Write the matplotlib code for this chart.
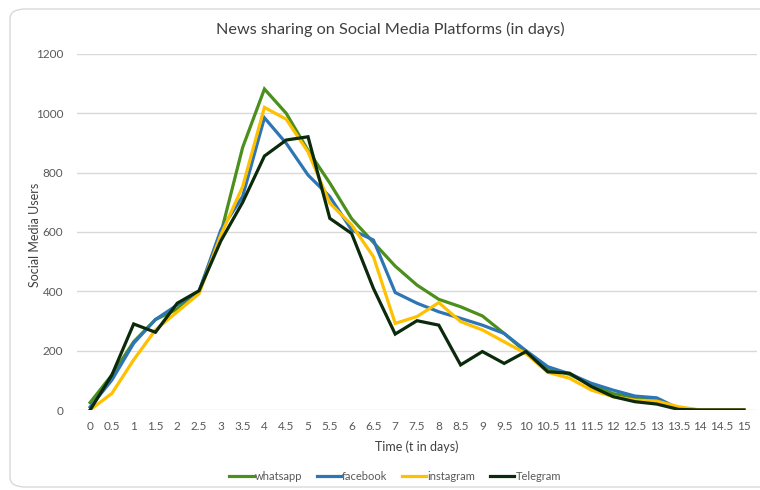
import matplotlib.pyplot as plt
from matplotlib.patches import FancyBboxPatch

plt.rcParams['font.family'] = ['Lato', 'DejaVu Sans']

# time steps (days) and users per platform
days = ['0', '0.5', '1', '1.5', '2', '2.5', '3', '3.5', '4', '4.5', '5', '5.5', '6', '6.5', '7', '7.5',
        '8', '8.5', '9', '9.5', '10', '10.5', '11', '11.5', '12', '12.5', '13', '13.5', '14', '14.5', '15']
whatsapp = [25, 118, 230, 305, 340, 400, 595, 885, 1082, 1000, 875, 765, 645, 565, 485, 421,
            373, 348, 317, 258, 195, 140, 120, 85, 55, 42, 33, 5, 0, 0, 0]
facebook = [10, 101, 225, 305, 354, 400, 607, 720, 985, 899, 792, 719, 607, 573, 396, 360,
            331, 309, 286, 258, 200, 146, 122, 90, 67, 47, 41, 5, 0, 0, 0]
instagram = [0, 56, 169, 270, 331, 392, 590, 753, 1020, 980, 870, 697, 624, 517, 292, 315,
             362, 298, 270, 230, 190, 127, 107, 67, 45, 33, 30, 11, 0, 0, 0]
telegram = [0, 118, 290, 262, 360, 402, 570, 700, 856, 910, 921, 646, 595, 410, 256, 301,
            286, 152, 197, 157, 197, 129, 124, 79, 45, 28, 20, 2, 0, 0, 0]

series = [('whatsapp', whatsapp, '#4b8f1c'),
          ('facebook', facebook, '#2e75b6'),
          ('instagram', instagram, '#ffc000'),
          ('Telegram', telegram, '#0b2a0b')]

fig = plt.figure(figsize=(7.6, 4.9), dpi=100)

# rounded chart frame
frame = FancyBboxPatch((10 / 760, 3 / 490), 780 / 760, 478 / 490,
                       boxstyle='round,pad=0,rounding_size=0.02',
                       transform=fig.transFigure, facecolor='white',
                       edgecolor='#d9d9d9', linewidth=1.0, zorder=-5)
fig.patches.append(frame)

ax = fig.add_axes([77 / 760, 1 - 410 / 490, 680 / 760, 356 / 490])
ax.set_facecolor('none')

x = range(len(days))
for name, vals, color in series:
    ax.plot(x, vals, color=color, lw=2.3, label=name, solid_joinstyle='miter')

ax.set_xlim(-0.6, len(days) - 0.4)
ax.set_ylim(0, 1200)
ax.set_yticks(range(0, 1201, 200))
ax.set_xticks(list(x))
ax.set_xticklabels(days)
ax.grid(axis='y', color='#d9d9d9', lw=1)
ax.set_axisbelow(True)
for s in ax.spines.values():
    s.set_visible(False)
ax.tick_params(length=0, colors='#595959', labelsize=8.5)
ax.tick_params(axis='y', pad=10)
ax.tick_params(axis='x', pad=8)

ax.set_xlabel('Time (t in days)', fontsize=9, color='#404040', labelpad=6)
fig.text(35 / 760, 1 - 235 / 490, 'Social Media Users', rotation=90,
         ha='center', va='center', fontsize=9, color='#404040')
fig.text(390 / 760, 1 - 29 / 490, 'News sharing on Social Media Platforms (in days)',
         ha='center', va='center', fontsize=11.7, color='#404040')

fig.legend(loc='center', bbox_to_anchor=(395 / 760, 1 - 476 / 490), ncol=4,
           frameon=False, fontsize=8, handlelength=2.2, handletextpad=0.1,
           columnspacing=1.3, labelcolor='#595959')

fig.savefig('out.png', dpi=100)
